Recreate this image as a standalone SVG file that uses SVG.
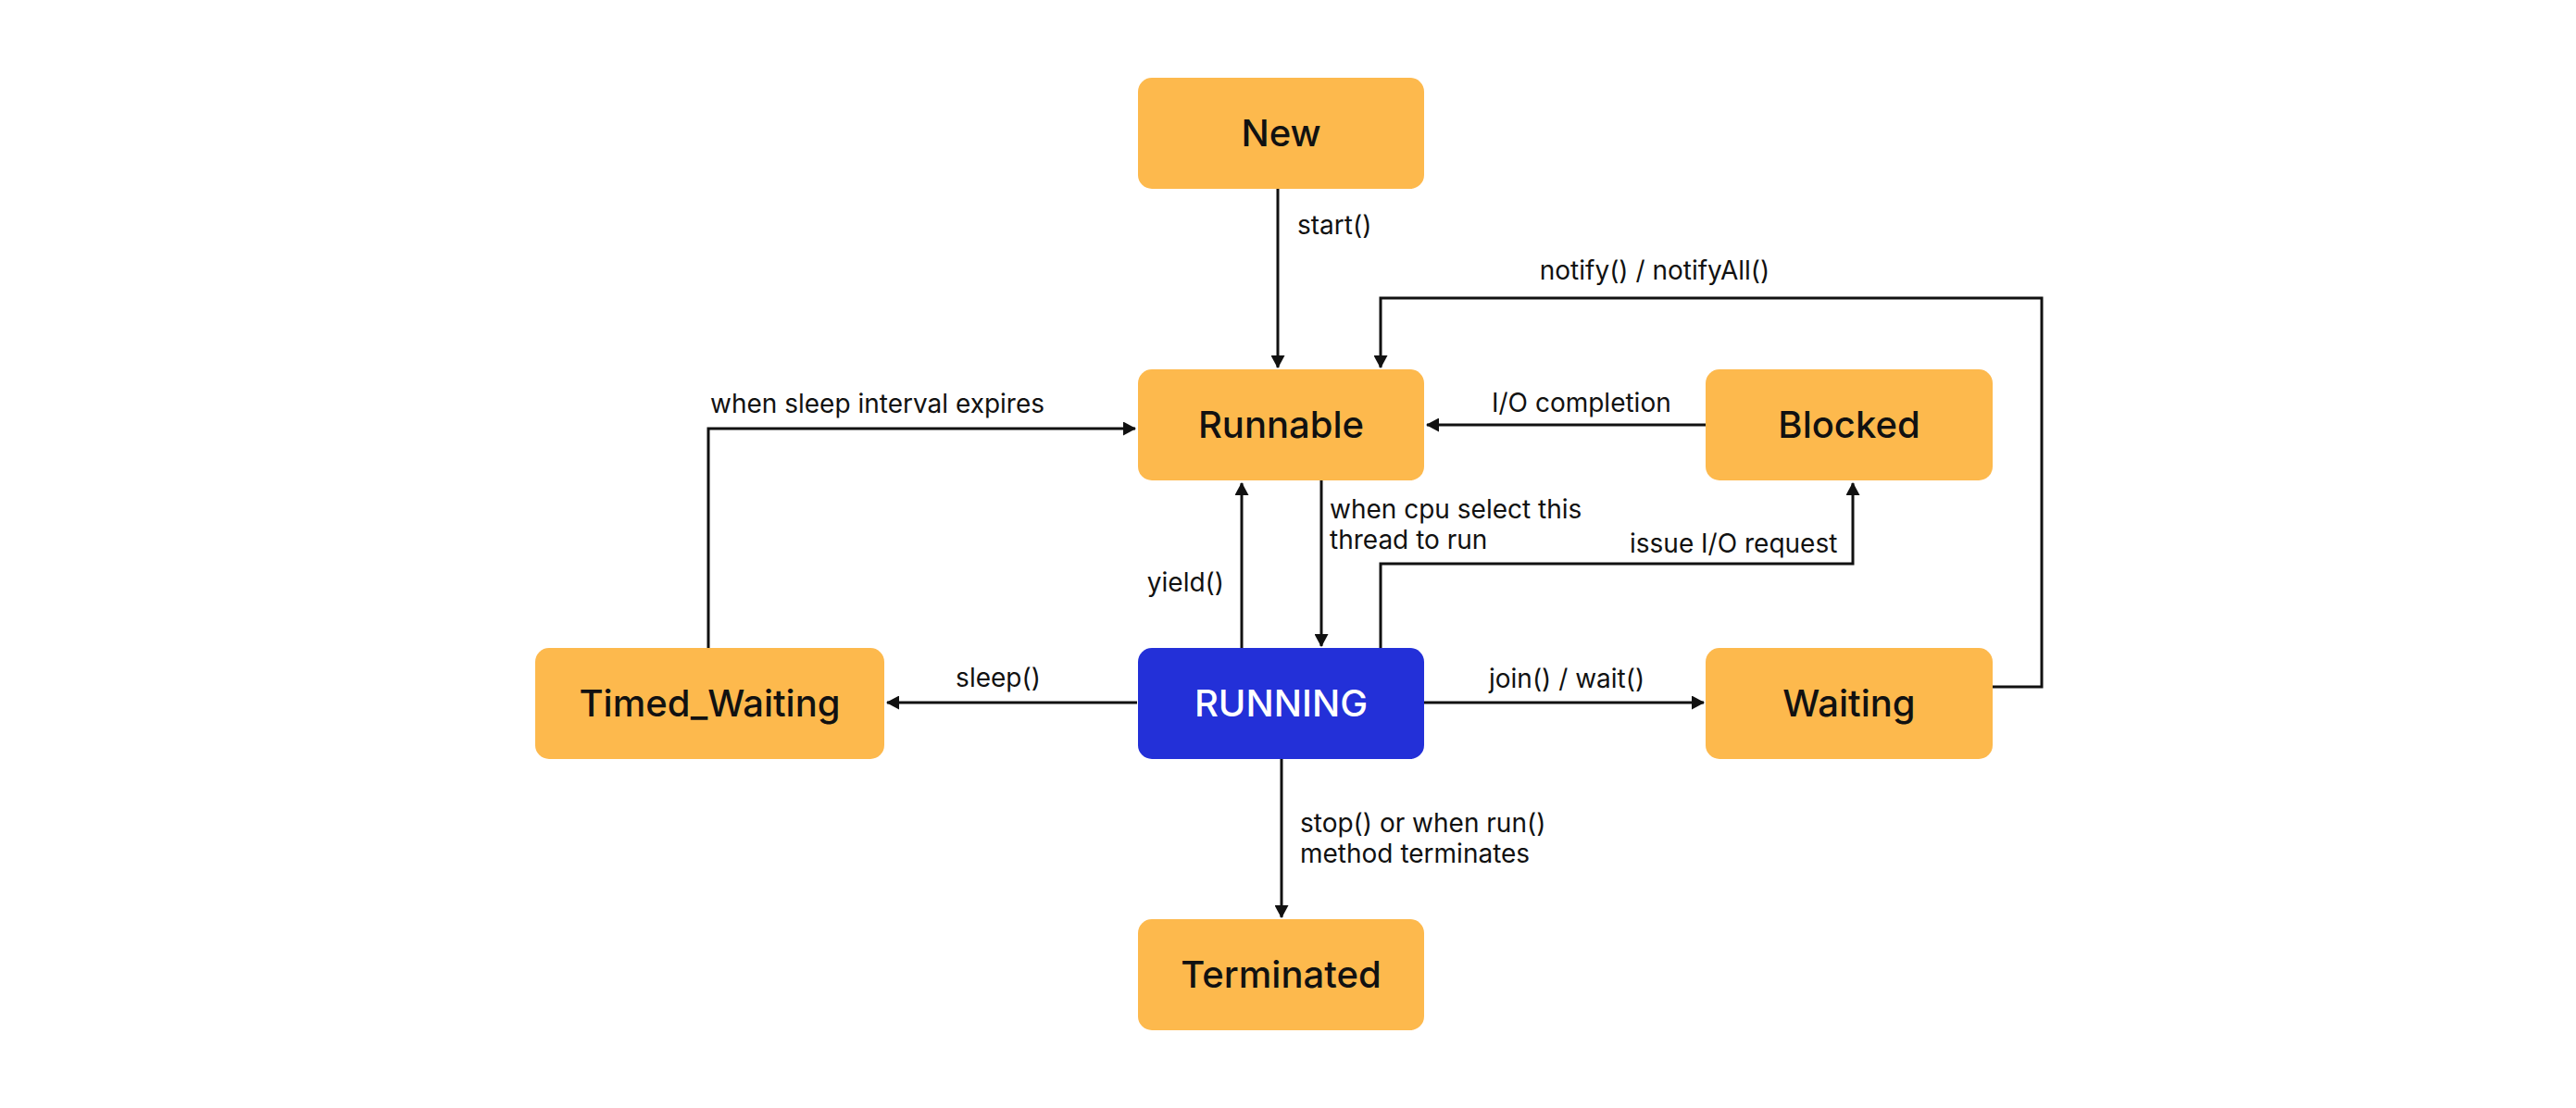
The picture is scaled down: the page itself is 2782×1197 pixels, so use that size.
<svg xmlns="http://www.w3.org/2000/svg" width="2782" height="1197" viewBox="0 0 2782 1197">
<style>
.node rect{fill:#FDB94D}
.node.run rect{fill:#2330D8}
.node text{font-family:Inter,"Noto Sans",sans-serif;font-size:40px;font-weight:500;fill:#111;text-anchor:middle}
.node.run text{fill:#fff}
.conn path{fill:none;stroke:#111;stroke-width:3}
.lbl{font-family:Inter,"Noto Sans",sans-serif;font-size:28px;fill:#111}
</style>
<defs>
<marker id="ah" markerUnits="userSpaceOnUse" markerWidth="14" markerHeight="15" refX="13" refY="7.5" orient="auto">
<path d="M0,0 L14,7.5 L0,15 z" fill="#111"/>
</marker>
</defs>
<rect width="2782" height="1197" fill="#fff"/>
<g class="conn">
<path d="M1380,204 V397" marker-end="url(#ah)"/>
<path d="M2152,742 H2205 V322 H1491 V397" marker-end="url(#ah)"/>
<path d="M1842,459 H1541" marker-end="url(#ah)"/>
<path d="M765,700 V463 H1226" marker-end="url(#ah)"/>
<path d="M1341,700 V522" marker-end="url(#ah)"/>
<path d="M1427,519 V698" marker-end="url(#ah)"/>
<path d="M1491,700 V609 H2001 V522" marker-end="url(#ah)"/>
<path d="M1228,759 H958" marker-end="url(#ah)"/>
<path d="M1538,759 H1840" marker-end="url(#ah)"/>
<path d="M1384,820 V991" marker-end="url(#ah)"/>
<text class="lbl" x="1401" y="253">start()</text>
<text class="lbl" x="1787" y="302" text-anchor="middle">notify() / notifyAll()</text>
<text class="lbl" x="1611" y="445">I/O completion</text>
<text class="lbl" x="767" y="446">when sleep interval expires</text>
<text class="lbl" x="1322" y="639" text-anchor="end">yield()</text>
<text class="lbl" x="1436" y="560">when cpu select this</text>
<text class="lbl" x="1436" y="593">thread to run</text>
<text class="lbl" x="1760" y="597">issue I/O request</text>
<text class="lbl" x="1078" y="742" text-anchor="middle">sleep()</text>
<text class="lbl" x="1608" y="743">join() / wait()</text>
<text class="lbl" x="1404" y="899">stop() or when run()</text>
<text class="lbl" x="1404" y="932">method terminates</text>
</g>
<g id="new" class="node"><rect x="1229" y="84" width="309" height="120" rx="15"/><text x="1383.5" y="158">New</text></g>
<g id="runnable" class="node"><rect x="1229" y="399" width="309" height="120" rx="15"/><text x="1383.5" y="473">Runnable</text></g>
<g id="blocked" class="node"><rect x="1842" y="399" width="310" height="120" rx="15"/><text x="1997" y="473">Blocked</text></g>
<g id="timed_waiting" class="node"><rect x="578" y="700" width="377" height="120" rx="15"/><text x="766.5" y="774">Timed_Waiting</text></g>
<g id="running" class="node run"><rect x="1229" y="700" width="309" height="120" rx="15"/><text x="1383.5" y="774">RUNNING</text></g>
<g id="waiting" class="node"><rect x="1842" y="700" width="310" height="120" rx="15"/><text x="1997" y="774">Waiting</text></g>
<g id="terminated" class="node"><rect x="1229" y="993" width="309" height="120" rx="15"/><text x="1383.5" y="1067">Terminated</text></g>
</svg>
